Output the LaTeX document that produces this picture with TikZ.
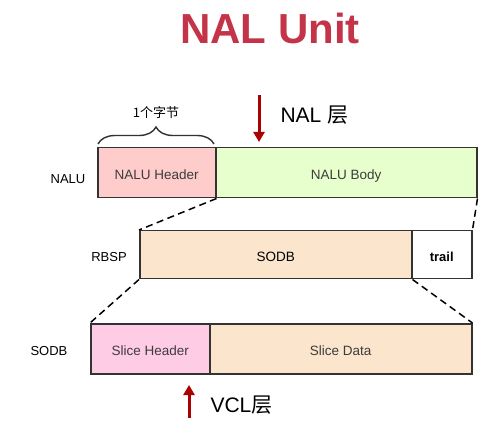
\documentclass[tikz,border=0pt]{standalone}
\usepackage{fontspec}
\setmainfont{Liberation Sans}
\newfontfamily\cjk{Noto Sans CJK SC}
\usetikzlibrary{arrows.meta,decorations.pathreplacing}
\definecolor{titlered}{RGB}{196,52,72}
\definecolor{arrowred}{RGB}{170,0,0}
\definecolor{edge}{RGB}{51,51,51}
\definecolor{hdrpink}{RGB}{255,204,204}
\definecolor{bodygreen}{RGB}{230,255,204}
\definecolor{peach}{RGB}{252,229,205}
\definecolor{slicepink}{RGB}{255,204,230}
\definecolor{boxtext}{RGB}{60,60,60}
\begin{document}
\begin{tikzpicture}[x=1pt,y=-1pt,
  seg/.style={draw=edge, line width=1.5pt, anchor=north west, inner sep=0pt,
    text height=14pt, text depth=0pt,
    font=\fontsize{13.5}{15}\selectfont, text=boxtext},
  rowlabel/.style={font=\fontsize{13}{15}\selectfont, text=black},
  link/.style={draw=black, line width=1.5pt, dash pattern=on 7pt off 4.5pt},
  layerarrow/.style={draw=arrowred, line width=3pt, -{Triangle[width=11pt,length=10pt]}},
  layertext/.style={font=\fontsize{21}{24}\selectfont, text=black}]
\useasboundingbox (0,0) rectangle (496,425);
% title
\node[font=\fontsize{42}{46}\bfseries, text=titlered] (title) at (270,28) {NAL Unit};
% NALU row
\node[seg, fill=hdrpink, minimum width=118pt, minimum height=50pt] (hdr) at (97,147) {NALU Header};
\node[seg, fill=bodygreen, minimum width=261pt, minimum height=50pt] (body) at (215,147) {NALU Body};
\node[rowlabel] (nalulbl) at (68,179) {NALU};
% brace
\coordinate (brL) at (98,144);
\coordinate (brR) at (214,144);
\draw[line width=1.4pt, draw=edge, decorate, decoration={brace, amplitude=17pt}] (brL) -- (brR);
\node[font=\fontsize{13}{15}\cjk, text=black] (bytes) at (156,113) {1个字节};
% NAL layer arrow
\coordinate (nalA) at (259,95);
\coordinate (nalB) at (259,142);
\draw[layerarrow] (nalA) -- (nalB);
\node[layertext, anchor=west] (naltxt) at (277,115) {NAL {\cjk 层}};
% RBSP row
\node[seg, fill=peach, minimum width=272pt, minimum height=48pt, text=black] (sodb) at (139,230) {SODB};
\node[seg, fill=white, minimum width=60pt, minimum height=48pt, text=black, font=\fontsize{13}{15}\selectfont\bfseries] (trail) at (411,230) {trail};
\node[rowlabel] (rbsplbl) at (109,257) {RBSP};
% SODB row
\node[seg, fill=slicepink, minimum width=119pt, minimum height=50pt] (sh) at (90,323) {Slice Header};
\node[seg, fill=peach, minimum width=262pt, minimum height=50pt] (sd) at (209,323) {Slice Data};
\node[rowlabel] (sodblbl) at (49,351) {SODB};
% dashed links
\draw[link] (hdr.south east) -- (sodb.north west);
\draw[link] (body.south east) -- (trail.north east);
\draw[link] (sodb.south west) -- (sh.north west);
\draw[link] (sodb.south east) -- (sd.north east);
% VCL arrow
\coordinate (vclA) at (189,418);
\coordinate (vclB) at (189,385);
\draw[layerarrow] (vclA) -- (vclB);
\node[layertext, anchor=west] (vcltxt) at (207,405) {VCL{\cjk 层}};
\end{tikzpicture}
\end{document}
